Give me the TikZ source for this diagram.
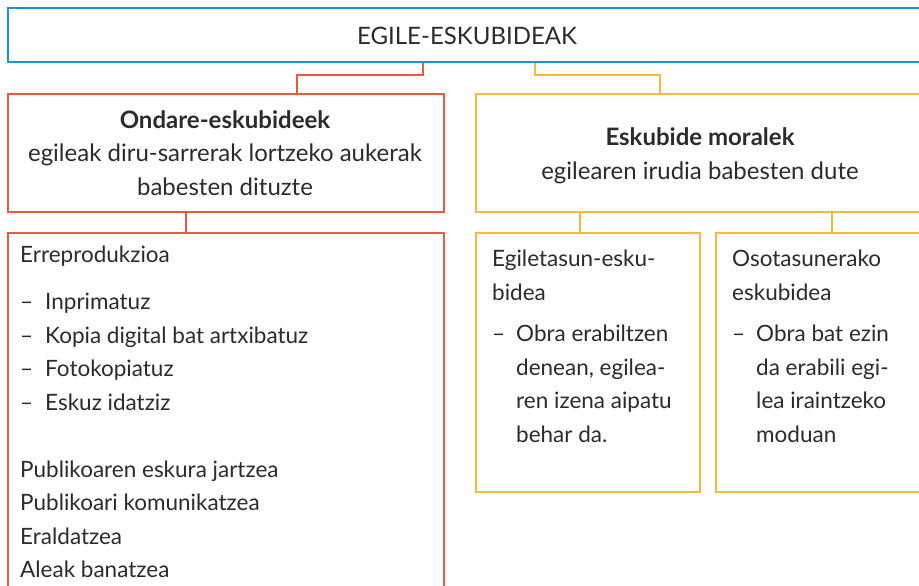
\documentclass[tikz,border=0pt]{standalone}
\usepackage{fontspec}
\setmainfont{Lato}
\usetikzlibrary{positioning}
\definecolor{egblue}{HTML}{1A93D3}
\definecolor{egred}{HTML}{EE5840}
\definecolor{egyellow}{HTML}{F6BA3A}
\definecolor{egtext}{HTML}{2B2B2B}

\begin{document}
\begin{tikzpicture}[x=1pt, y=1pt,
  box/.style={draw, line width=2pt, inner sep=0pt, anchor=north west},
  bodytext/.style={text=egtext, font=\fontsize{22.5}{33.5}\selectfont, inner sep=0pt},
  headtext/.style={bodytext, font=\fontsize{24}{33.5}\selectfont},
  link/.style={line width=2pt}]

% --- CANVAS ---
\useasboundingbox (0,0) rectangle (919,-586);
\clip (0,0) rectangle (919,-586);

% --- PARAMETERS ---
\def\dash{\makebox[25pt][l]{--}} % bullet dash
\def\ind{\makebox[24pt]{}}       % hanging indent

% --- BOXES ---
\node[box, draw=egblue, minimum width=920, minimum height=54] (rights) at (7,-7) {};
\node[box, draw=egred, minimum width=436, minimum height=117] (wealth) at (7,-93.5) {};
\node[box, draw=egred, minimum width=436, minimum height=400] (wealthList) at (7,-231.5) {};
\node[box, draw=egyellow, minimum width=450, minimum height=117] (moral) at (475,-93.5) {};
\node[box, draw=egyellow, minimum width=224, minimum height=259] (author) at (475,-232) {};
\node[box, draw=egyellow, minimum width=232, minimum height=259] (integ) at (715,-232) {};

% --- TEXTS ---
\node[headtext, anchor=north] (rightsT) at (467,-20.9) {\strut EGILE-ESKUBIDEAK};
\node[headtext, anchor=north, align=center] (wealthT) at (225,-104.5)
  {\strut\textbf{Ondare-eskubideek}\\ egileak diru-sarrerak lortzeko aukerak\\ babesten dituzte};
\node[headtext, anchor=north, align=center] (moralT) at (700,-122.2)
  {\strut\textbf{Eskubide moralek}\\ egilearen irudia babesten dute};
\node[bodytext, anchor=north west, align=left] (wealthListT) at (20,-238.5)
  {\strut Erreprodukzioa\\[14pt]
   \dash Inprimatuz\\ \dash Kopia digital bat artxibatuz\\
   \dash Fotokopiatuz\\ \dash Eskuz idatziz\\[33.5pt]
   Publikoaren eskura jartzea\\ Publikoari komunikatzea\\
   Eraldatzea\\ Aleak banatzea};
\node[bodytext, anchor=north west, align=left] (authorT) at (492,-243.2)
  {\strut Egiletasun-esku-\\ bidea\\[8pt]
   \makebox[24pt][l]{--}Obra erabiltzen\\ \ind denean, egilea-\\
   \ind ren izena aipatu\\ \ind behar da.};
\node[bodytext, anchor=north west, align=left] (integT) at (732,-243.2)
  {\strut Osotasunerako\\ eskubidea\\[8pt]
   \makebox[24pt][l]{--}Obra bat ezin\\ \ind da erabili egi-\\
   \ind lea iraintzeko\\ \ind moduan};

% --- CONNECTORS ---
\draw[link, egred] ([xshift=-45pt]rights.south) -- ++(0,-12) -| ([xshift=71pt]wealth.north);
\draw[link, egyellow] ([xshift=67pt]rights.south) -- ++(0,-12) -| ([xshift=-41pt]moral.north);
\draw[link, egred] ([xshift=-40pt]wealth.south) -- ([xshift=-40pt]wealth.south |- wealthList.north);
\draw[link, egyellow] ([xshift=-121pt]moral.south) -- ([xshift=-121pt]moral.south |- author.north);
\draw[link, egyellow] (moral.south -| integ.north) -- (integ.north);

\end{tikzpicture}
\end{document}
